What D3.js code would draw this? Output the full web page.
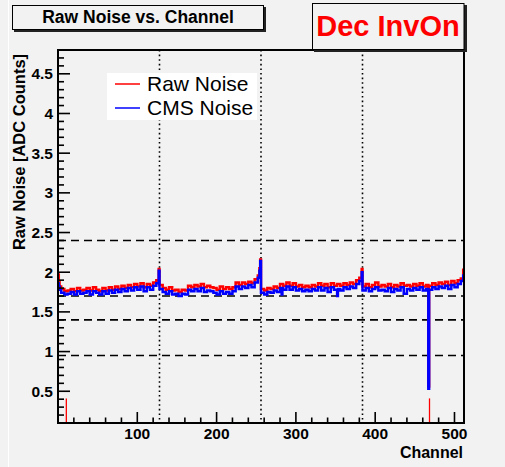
<!DOCTYPE html>
<html><head><meta charset="utf-8">
<script src="https://cdn.jsdelivr.net/npm/d3@7"></script>
<style>
html,body{margin:0;padding:0;background:#f2f2f2;}
svg{display:block;font-family:"Liberation Sans",Arial,Helvetica,sans-serif;}
</style></head>
<body>
<svg id="c" width="505" height="467"></svg>
<script>
// ---- data ----
const nChannels = 512;
const binSize = 4; // each base value covers 4 channels
const rawNoiseBins = [
 1.82,1.79,1.76,1.77,1.79,1.76,1.80,1.77,1.78,1.80,1.77,1.81,1.78,1.76,1.80,1.77,
 1.81,1.78,1.82,1.79,1.83,1.80,1.84,1.81,1.85,1.82,1.86,1.81,1.85,1.83,1.87,1.90,
 1.84,1.80,1.78,1.81,1.77,1.78,1.75,1.78,1.77,1.83,1.81,1.84,1.82,1.85,1.81,1.83,
 1.81,1.80,1.78,1.82,1.79,1.81,1.79,1.81,1.87,1.84,1.87,1.85,1.88,1.86,1.91,1.96,
 1.79,1.77,1.80,1.79,1.82,1.80,1.85,1.83,1.87,1.83,1.86,1.82,1.84,1.81,1.83,1.81,
 1.84,1.82,1.86,1.83,1.85,1.81,1.86,1.83,1.85,1.83,1.86,1.84,1.87,1.85,1.90,1.93,
 1.82,1.85,1.81,1.84,1.87,1.82,1.84,1.82,1.85,1.81,1.84,1.82,1.86,1.83,1.84,1.82,
 1.85,1.83,1.86,1.82,1.84,1.83,1.86,1.84,1.87,1.85,1.88,1.84,1.89,1.86,1.90,1.92
];
const cmsNoiseBins = [
 1.78,1.74,1.72,1.73,1.75,1.72,1.76,1.73,1.74,1.76,1.72,1.76,1.74,1.72,1.76,1.73,
 1.77,1.74,1.78,1.75,1.79,1.76,1.80,1.77,1.81,1.78,1.82,1.76,1.81,1.78,1.83,1.86,
 1.79,1.75,1.73,1.76,1.72,1.73,1.70,1.73,1.72,1.78,1.76,1.79,1.76,1.80,1.75,1.77,
 1.76,1.74,1.72,1.76,1.73,1.75,1.73,1.76,1.82,1.79,1.82,1.80,1.84,1.81,1.87,1.93,
 1.74,1.72,1.75,1.74,1.77,1.75,1.80,1.78,1.82,1.78,1.81,1.77,1.79,1.76,1.78,1.76,
 1.79,1.77,1.81,1.77,1.80,1.75,1.81,1.78,1.79,1.77,1.81,1.79,1.82,1.80,1.85,1.89,
 1.77,1.80,1.76,1.79,1.81,1.77,1.78,1.76,1.80,1.75,1.79,1.77,1.81,1.73,1.79,1.77,
 1.80,1.78,1.81,1.77,1.79,1.78,1.81,1.79,1.82,1.80,1.83,1.79,1.84,1.81,1.85,1.89
];
// single-channel values that differ from their bin
const rawSpikeChannels = [0, 1, 127, 254, 255, 383, 467, 511];
const rawSpikeValues   = [1.97, 1.88, 2.04, 2.05, 2.16, 2.04, 0.56, 2.03];
const cmsSpikeChannels = [0, 1, 127, 254, 255, 282, 352, 383, 467, 511];
const cmsSpikeValues   = [1.86, 1.82, 2.02, 2.02, 2.14, 1.72, 1.70, 2.00, 0.53, 1.96];
// red bad-channel markers
const markerChannels = [10, 468];
const markerTop = [0.41, 0.41];
// reference lines
const hLines = [2.4, 1.7, 1.4, 0.95];
const vLines = [128, 256, 384];
const xTicks = [100, 200, 300, 400, 500];
const yTicks = [0.5, 1, 1.5, 2, 2.5, 3, 3.5, 4, 4.5];
const legendLabels = ["Raw Noise", "CMS Noise"];
const colors = ["#ff0000", "#0000ff"];

function expand(bins, spikeCh, spikeV){
  const out = [];
  for (let i = 0; i < nChannels; i++) {
    const k = spikeCh.indexOf(i);
    out.push(k >= 0 ? spikeV[k] : bins[Math.floor(i / binSize)]);
  }
  return out;
}
const raw = expand(rawNoiseBins, rawSpikeChannels, rawSpikeValues);
const cms = expand(cmsNoiseBins, cmsSpikeChannels, cmsSpikeValues);

// ---- layout ----
const L = 58, R = 464, T = 50, B = 423;
const svg = d3.select("#c");
svg.append("rect").attr("width",505).attr("height",467).attr("fill","#f2f2f2");
svg.append("line").attr("x1",8.5).attr("x2",8.5).attr("y1",0).attr("y2",467).attr("stroke","#ffffff").attr("stroke-width",1);

const x = d3.scaleLinear().domain([0, 512]).range([L, R]);
const y = d3.scaleLinear().domain([0.1, 4.8]).range([B, T]);

// reference lines
svg.append("g").selectAll("line").data(hLines).join("line")
  .attr("x1", L).attr("x2", R).attr("y1", d => y(d)).attr("y2", d => y(d))
  .attr("stroke", "#000").attr("stroke-width", 1.6).attr("stroke-dasharray", "8,5");
svg.append("g").selectAll("line").data(vLines).join("line")
  .attr("x1", d => x(d)).attr("x2", d => x(d)).attr("y1", T).attr("y2", B)
  .attr("stroke", "#000").attr("stroke-width", 1.6).attr("stroke-dasharray", "1.6,3");

// histograms
function stepPts(vals){
  const p = vals.map((v, i) => [i, v]);
  p.push([nChannels, vals[nChannels - 1]]);
  return p;
}
const line = d3.line().x(d => x(d[0])).y(d => y(d[1])).curve(d3.curveStepAfter);
svg.append("path").attr("d", line(stepPts(raw))).attr("fill","none")
  .attr("stroke", colors[0]).attr("stroke-width", 2.5);
svg.append("path").attr("d", line(stepPts(cms))).attr("fill","none")
  .attr("stroke", colors[1]).attr("stroke-width", 2.5);

// markers
svg.append("g").selectAll("line").data(markerChannels).join("line")
  .attr("x1", d => x(d + 0.5)).attr("x2", d => x(d + 0.5))
  .attr("y1", (d, i) => y(markerTop[i])).attr("y2", B)
  .attr("stroke", colors[0]).attr("stroke-width", 1.3);

// axes ticks
const gT = svg.append("g").attr("stroke","#000").attr("stroke-width",1.6);
d3.range(20, 512, 20).forEach(v => {
  const major = v % 100 === 0;
  gT.append("line").attr("x1", x(v)).attr("x2", x(v)).attr("y1", B).attr("y2", B - (major ? 11 : 5.5));
});
d3.range(2, 48).forEach(k => {
  const v = k / 10;
  const major = k % 5 === 0;
  gT.append("line").attr("x1", L).attr("x2", L + (major ? 12 : 6)).attr("y1", y(v)).attr("y2", y(v));
});

// frame
svg.append("rect").attr("x", L).attr("y", T).attr("width", R - L).attr("height", B - T)
  .attr("fill","none").attr("stroke","#000").attr("stroke-width",2);

// tick labels
svg.append("g").selectAll("text").data(xTicks).join("text")
  .attr("x", d => x(d)).attr("y", 439).attr("text-anchor","middle")
  .attr("font-size", 15.5).attr("font-weight","bold").text(d => d);
svg.append("g").selectAll("text").data(yTicks).join("text")
  .attr("x", 53).attr("y", d => y(d) + 5.5).attr("text-anchor","end")
  .attr("font-size", 15.5).attr("font-weight","bold").text(d => d);

// axis titles
svg.append("text").attr("x", 463).attr("y", 458).attr("text-anchor","end")
  .attr("font-size", 16).attr("font-weight","bold").text("Channel");
svg.append("text").attr("transform","translate(25,152) rotate(-90)").attr("text-anchor","middle")
  .attr("font-size", 16.5).attr("font-weight","bold").text("Raw Noise [ADC Counts]");

// title box
svg.append("rect").attr("x", 14).attr("y", 7).attr("width", 252).attr("height", 25).attr("fill","#222");
svg.append("rect").attr("x", 12.5).attr("y", 5.5).attr("width", 251).attr("height", 24)
  .attr("fill","#f2f2f2").attr("stroke","#000").attr("stroke-width",1);
svg.append("text").attr("x", 138).attr("y", 23).attr("text-anchor","middle")
  .attr("font-size", 17.5).attr("font-weight","bold").text("Raw Noise vs. Channel");

// Dec InvOn box
svg.append("rect").attr("x", 314).attr("y", 5).attr("width", 153).attr("height", 47).attr("fill","#222");
svg.append("rect").attr("x", 312.5).attr("y", 3.5).attr("width", 151.5).attr("height", 46)
  .attr("fill","#f2f2f2").attr("stroke","#000").attr("stroke-width",1);
svg.append("text").attr("x", 388).attr("y", 36).attr("text-anchor","middle")
  .attr("font-size", 29).attr("font-weight","bold").attr("fill","#ff0000").text("Dec InvOn");

// legend
svg.append("rect").attr("x", 107).attr("y", 73).attr("width", 150).attr("height", 47).attr("fill","#fff");
const lg = svg.append("g").selectAll("g").data(legendLabels).join("g")
  .attr("transform", (d, i) => `translate(0,${84 + i * 24})`);
lg.append("line").attr("x1", 115).attr("x2", 140).attr("y1", 0).attr("y2", 0)
  .attr("stroke", (d, i) => colors[i]).attr("stroke-width", 1.5);
lg.append("text").attr("x", 147).attr("y", 7).attr("font-size", 21).text(d => d);
</script>
</body></html>
